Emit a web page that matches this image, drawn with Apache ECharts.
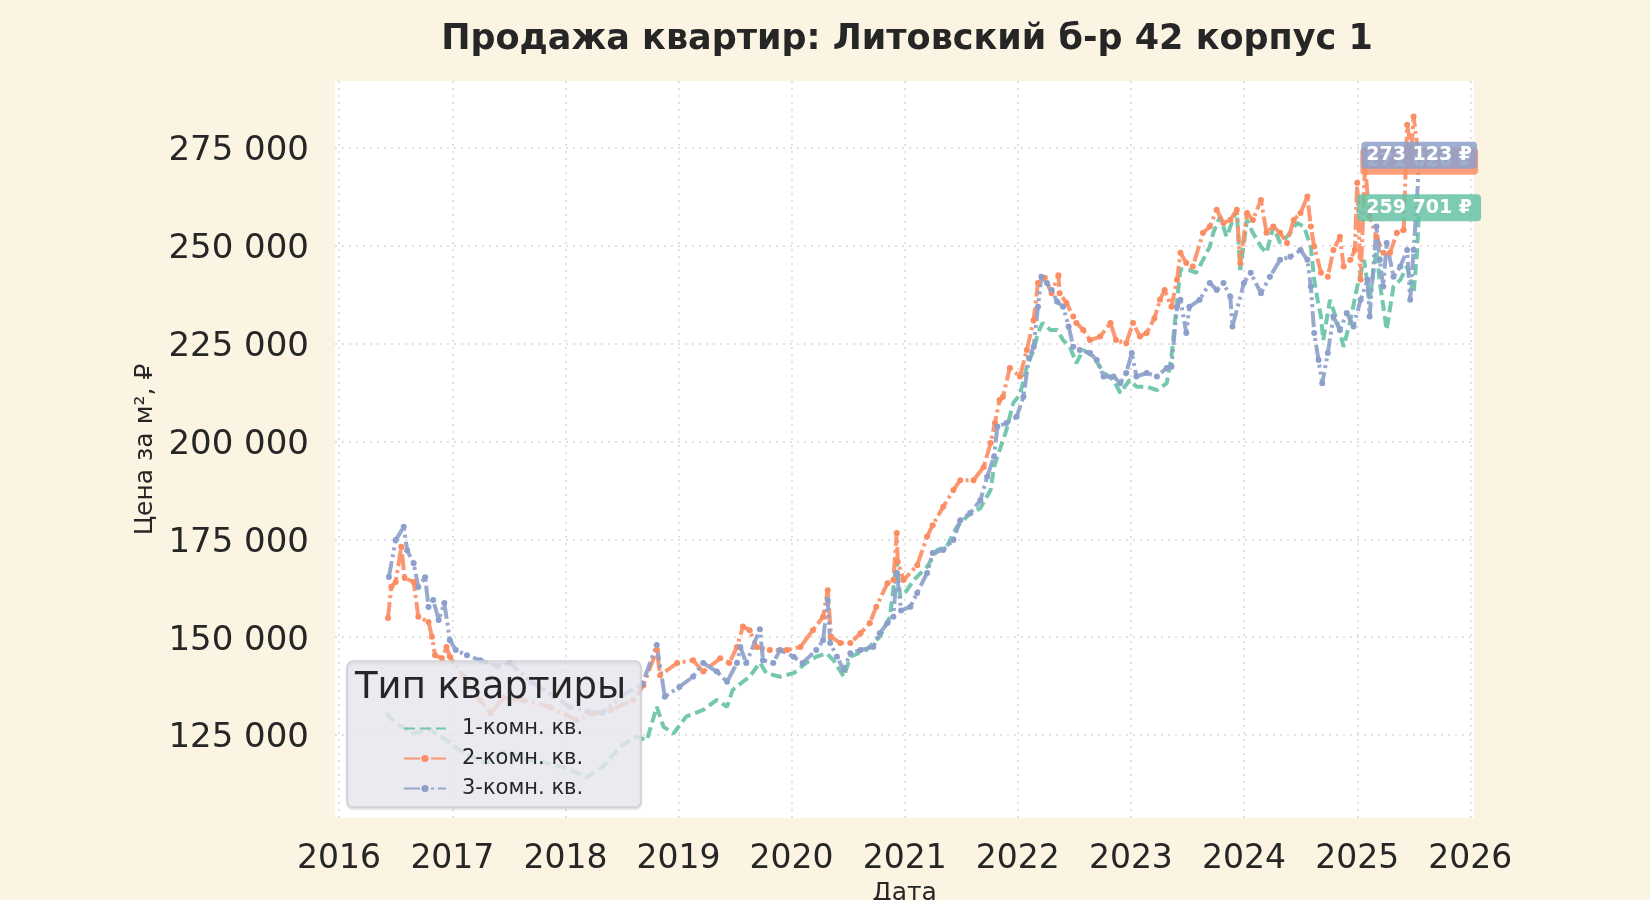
<!DOCTYPE html>
<html>
<head>
<meta charset="utf-8">
<title>Продажа квартир</title>
<script src="https://cdn.jsdelivr.net/npm/echarts@6/dist/echarts.min.js"></script>
<style>
  html, body { margin: 0; padding: 0; background: #fbf4e2; }
  #chart { width: 1650px; height: 900px; }
</style>
</head>
<body>
<div id="chart"></div>
<script>
/* Values: [date, price per m²] */
const seriesNames = ['1-комн. кв.', '2-комн. кв.', '3-комн. кв.'];

const yTicks = [125000, 150000, 175000, 200000, 225000, 250000, 275000];
const xTicks = ['2016-01-01', '2017-01-01', '2018-01-01', '2019-01-01', '2020-01-01', '2021-01-01',
                '2022-01-01', '2023-01-01', '2024-01-01', '2025-01-01', '2026-01-01'];

const room1 = [
  ['2016-06-03', 130500], ['2016-07-02', 128000], ['2016-08-29', 125400], ['2016-10-19', 126500],
  ['2016-12-13', 123700], ['2017-02-06', 120400], ['2017-04-20', 117800], ['2017-06-25', 121000],
  ['2017-08-15', 119000], ['2017-10-19', 118000], ['2017-12-24', 116800], ['2018-03-10', 114200],
  ['2018-05-01', 116800], ['2018-06-25', 121900], ['2018-08-18', 124600], ['2018-09-21', 123700],
  ['2018-10-23', 132200], ['2018-11-14', 127100], ['2018-12-16', 125400], ['2019-01-26', 129700],
  ['2019-03-22', 131400], ['2019-05-05', 134000], ['2019-06-07', 132200], ['2019-06-25', 136500],
  ['2019-07-20', 138100], ['2019-08-19', 139900], ['2019-09-21', 143500], ['2019-10-12', 140800],
  ['2019-11-25', 139900], ['2020-01-08', 140800], ['2020-02-17', 143400], ['2020-03-21', 145000],
  ['2020-04-23', 145900], ['2020-05-16', 144100], ['2020-06-18', 139900], ['2020-07-09', 145000],
  ['2020-08-29', 146700], ['2020-10-12', 150100], ['2020-11-14', 155200], ['2020-12-06', 169700],
  ['2020-12-17', 160300], ['2021-01-08', 162000], ['2021-01-30', 164600], ['2021-03-14', 168000],
  ['2021-04-16', 172300], ['2021-05-16', 173100], ['2021-06-18', 178200], ['2021-07-20', 180800],
  ['2021-09-02', 183000], ['2021-10-05', 187600], ['2021-10-16', 193500], ['2021-11-25', 202900],
  ['2021-12-17', 209800], ['2022-01-08', 212000], ['2022-01-30', 219100], ['2022-02-21', 223400],
  ['2022-03-07', 227700], ['2022-03-22', 230300], ['2022-04-16', 228500], ['2022-05-08', 228500],
  ['2022-05-27', 225900], ['2022-06-18', 224200], ['2022-07-09', 220000], ['2022-07-31', 223400],
  ['2022-09-02', 221700], ['2022-10-05', 217500], ['2022-11-06', 215700], ['2022-11-28', 212400],
  ['2022-12-28', 215700], ['2023-01-19', 214000], ['2023-02-21', 214000], ['2023-03-26', 213100],
  ['2023-04-27', 214900], ['2023-05-12', 221700], ['2023-05-23', 230300], ['2023-06-10', 244000],
  ['2023-07-09', 243800], ['2023-07-31', 243100], ['2023-08-22', 246400], ['2023-09-13', 249800],
  ['2023-09-24', 253300], ['2023-10-16', 257500], ['2023-11-06', 252300], ['2023-12-09', 259200],
  ['2023-12-20', 243800], ['2024-01-11', 256600], ['2024-01-30', 253300], ['2024-02-25', 249800],
  ['2024-03-14', 248200], ['2024-04-05', 254900], ['2024-04-27', 250700], ['2024-05-19', 252300],
  ['2024-06-21', 255800], ['2024-07-13', 254900], ['2024-08-04', 249800], ['2024-08-15', 241300],
  ['2024-08-26', 236200], ['2024-09-06', 231900], ['2024-09-13', 225900], ['2024-10-05', 236200],
  ['2024-10-27', 231000], ['2024-11-18', 224200], ['2024-12-10', 231000], ['2025-01-01', 239600],
  ['2025-01-23', 246400], ['2025-02-10', 236200], ['2025-03-04', 248900], ['2025-03-15', 240500],
  ['2025-04-06', 228500], ['2025-04-28', 239600], ['2025-05-20', 241300], ['2025-06-11', 244700],
  ['2025-07-02', 237900], ['2025-07-13', 248200], ['2025-07-20', 259701]
];

const room2 = [
  ['2016-06-07', 154900], ['2016-06-18', 162900], ['2016-07-02', 164100], ['2016-07-20', 173100],
  ['2016-07-31', 165100], ['2016-08-29', 164100], ['2016-09-13', 155200], ['2016-10-16', 153900],
  ['2016-10-27', 150100], ['2016-11-06', 145400], ['2016-11-28', 144600], ['2016-12-13', 147500],
  ['2016-12-24', 145000], ['2017-02-06', 140000], ['2017-04-01', 133900], ['2017-05-05', 130600],
  ['2017-06-14', 134500], ['2017-08-19', 133900], ['2017-11-14', 132100], ['2018-02-06', 128800],
  ['2018-04-01', 130500], ['2018-05-27', 131400], ['2018-08-08', 133900], ['2018-09-10', 137700],
  ['2018-10-23', 146700], ['2018-11-03', 140300], ['2018-12-28', 143400], ['2019-02-17', 144100],
  ['2019-03-22', 141200], ['2019-05-16', 144600], ['2019-06-14', 143400], ['2019-07-09', 147500],
  ['2019-07-28', 152700], ['2019-08-19', 151800], ['2019-09-10', 147500], ['2019-10-23', 146700],
  ['2019-12-17', 146700], ['2020-01-30', 147500], ['2020-03-10', 151800], ['2020-04-12', 155200],
  ['2020-04-27', 162000], ['2020-05-08', 150100], ['2020-06-07', 148500], ['2020-07-09', 148500],
  ['2020-08-11', 151000], ['2020-09-10', 153600], ['2020-10-01', 157800], ['2020-11-06', 163800],
  ['2020-11-25', 164600], ['2020-12-06', 176600], ['2020-12-09', 169300], ['2020-12-28', 164600],
  ['2021-02-10', 168400], ['2021-03-14', 175700], ['2021-04-01', 178600], ['2021-05-05', 183300],
  ['2021-06-07', 187600], ['2021-06-29', 190100], ['2021-08-11', 190100], ['2021-09-13', 193500],
  ['2021-10-05', 199600], ['2021-10-19', 204700], ['2021-11-03', 210600], ['2021-11-14', 211400],
  ['2021-12-06', 218800], ['2022-01-08', 216600], ['2022-01-30', 223400], ['2022-02-21', 231000],
  ['2022-03-07', 240500], ['2022-03-29', 241800], ['2022-04-20', 237900], ['2022-05-12', 242500],
  ['2022-05-16', 237900], ['2022-06-07', 235400], ['2022-06-29', 231900], ['2022-07-09', 230300],
  ['2022-07-31', 228500], ['2022-08-22', 225900], ['2022-09-24', 226800], ['2022-10-27', 230300],
  ['2022-11-14', 225900], ['2022-12-17', 225100], ['2023-01-08', 230300], ['2023-01-30', 226800],
  ['2023-02-21', 227700], ['2023-03-18', 231500], ['2023-04-05', 236200], ['2023-04-20', 238700],
  ['2023-05-12', 234400], ['2023-05-30', 241300], ['2023-06-10', 248200], ['2023-06-29', 245600],
  ['2023-07-20', 244700], ['2023-08-22', 253300], ['2023-09-13', 254900], ['2023-10-05', 259200],
  ['2023-10-27', 255800], ['2023-11-18', 256600], ['2023-12-09', 259200], ['2023-12-20', 245600],
  ['2024-01-11', 258400], ['2024-01-30', 256600], ['2024-02-25', 261700], ['2024-03-14', 253300],
  ['2024-04-05', 254900], ['2024-04-27', 253300], ['2024-05-19', 250700], ['2024-06-10', 256600],
  ['2024-07-02', 258400], ['2024-07-24', 262600], ['2024-08-04', 254900], ['2024-08-15', 249800],
  ['2024-09-06', 243100], ['2024-09-28', 242100], ['2024-10-16', 248900], ['2024-11-06', 252300],
  ['2024-11-18', 244700], ['2024-12-10', 246400], ['2024-12-24', 248900], ['2025-01-01', 266100],
  ['2025-01-12', 241300], ['2025-01-26', 270200], ['2025-02-10', 257500], ['2025-03-04', 252300],
  ['2025-03-26', 248200], ['2025-04-17', 248200], ['2025-05-09', 253300], ['2025-05-31', 254000],
  ['2025-06-11', 280900], ['2025-06-25', 274500], ['2025-07-02', 283000], ['2025-07-20', 271626]
];

const room3 = [
  ['2016-06-10', 165400], ['2016-07-02', 174800], ['2016-07-28', 178200], ['2016-08-08', 172200],
  ['2016-08-29', 168900], ['2016-09-13', 162800], ['2016-10-05', 165300], ['2016-10-16', 157700],
  ['2016-10-31', 159500], ['2016-11-18', 154400], ['2016-12-06', 158700], ['2016-12-24', 149200],
  ['2017-01-12', 146700], ['2017-02-17', 145400], ['2017-04-01', 144100], ['2017-05-27', 142500],
  ['2017-07-05', 143400], ['2017-09-13', 138500], ['2017-11-25', 135000], ['2018-01-15', 132100],
  ['2018-03-14', 131000], ['2018-05-01', 130600], ['2018-07-02', 135000], ['2018-09-06', 138000],
  ['2018-10-23', 148000], ['2018-11-18', 134800], ['2019-01-04', 137300], ['2019-02-17', 139900],
  ['2019-03-22', 143400], ['2019-05-05', 141200], ['2019-06-07', 138600], ['2019-07-09', 143400],
  ['2019-07-20', 147500], ['2019-08-08', 143400], ['2019-09-21', 152000], ['2019-10-01', 144100],
  ['2019-11-03', 143400], ['2019-11-25', 146700], ['2020-01-08', 145000], ['2020-02-06', 143400],
  ['2020-03-21', 146700], ['2020-04-12', 149200], ['2020-04-27', 159500], ['2020-05-05', 148500],
  ['2020-05-27', 145000], ['2020-06-18', 141600], ['2020-07-09', 145900], ['2020-08-11', 146700],
  ['2020-09-21', 147500], ['2020-10-12', 151000], ['2020-11-06', 153600], ['2020-11-25', 155200],
  ['2020-12-06', 166400], ['2020-12-20', 156800], ['2021-01-19', 157800], ['2021-02-10', 161300],
  ['2021-03-14', 166400], ['2021-04-01', 171500], ['2021-05-05', 172300], ['2021-06-07', 174800],
  ['2021-06-29', 179900], ['2021-07-31', 181700], ['2021-09-02', 185000], ['2021-09-24', 191000],
  ['2021-10-16', 196100], ['2021-10-27', 203800], ['2021-11-25', 204700], ['2021-12-28', 206300],
  ['2022-01-19', 211400], ['2022-02-06', 221300], ['2022-02-21', 224200], ['2022-03-07', 234400],
  ['2022-03-18', 242100], ['2022-04-05', 240500], ['2022-04-20', 238700], ['2022-05-08', 235700],
  ['2022-05-27', 234400], ['2022-06-14', 229400], ['2022-06-29', 224200], ['2022-07-20', 223400],
  ['2022-08-22', 222600], ['2022-09-13', 220800], ['2022-10-05', 216600], ['2022-11-06', 216600],
  ['2022-11-28', 214900], ['2022-12-17', 217500], ['2023-01-04', 222600], ['2023-01-19', 216600],
  ['2023-02-21', 217500], ['2023-03-26', 216600], ['2023-04-27', 218800], ['2023-05-12', 219100],
  ['2023-05-30', 234400], ['2023-06-10', 236200], ['2023-06-29', 227700], ['2023-07-09', 234400],
  ['2023-08-11', 236200], ['2023-09-13', 240500], ['2023-10-05', 238700], ['2023-10-27', 240500],
  ['2023-11-18', 237000], ['2023-11-25', 229400], ['2024-01-01', 240500], ['2024-01-23', 243100],
  ['2024-02-25', 237900], ['2024-03-25', 242100], ['2024-04-27', 246400], ['2024-05-30', 247200],
  ['2024-07-02', 248900], ['2024-07-24', 246400], ['2024-08-04', 239600], ['2024-08-15', 227700],
  ['2024-08-29', 220800], ['2024-09-10', 214900], ['2024-09-28', 222600], ['2024-10-16', 231900],
  ['2024-11-06', 228500], ['2024-11-28', 232800], ['2024-12-20', 229400], ['2025-01-12', 236200],
  ['2025-02-03', 241300], ['2025-02-10', 231900], ['2025-03-04', 254900], ['2025-03-15', 246400],
  ['2025-03-26', 239600], ['2025-04-06', 250700], ['2025-04-28', 242100], ['2025-05-20', 244700],
  ['2025-06-11', 248900], ['2025-06-21', 236200], ['2025-07-02', 248900], ['2025-07-13', 261700],
  ['2025-07-20', 273123]
];

const COLORS = ['#66c2a5', '#fc8d62', '#8da0cb'];
const LABEL_BG = ['rgba(102,194,165,0.85)', 'rgba(252,141,98,0.85)', 'rgba(141,160,203,0.85)'];
const LABEL_PAD = [[4, 9, 4, 9], [4, 6, 4, 6], [4, 5, 4, 5]];
const FONT = "'DejaVu Sans', sans-serif";
const TEXT = '#262626';

/* timestamp for a 'YYYY-MM-DD' string */
const ts = s => new Date(s + 'T00:00:00').getTime();
/* 275000 -> "275 000" */
const fmt = v => String(Math.round(v)).replace(/\B(?=(\d{3})+(?!\d))/g, ' ');

function lineSeries(i, rows, dash, symbolSize) {
  const data = rows.map(r => [ts(r[0]), r[1]]);
  const last = data[data.length - 1];
  return {
    name: seriesNames[i],
    type: 'line',
    data: data,
    symbol: symbolSize ? 'circle' : 'none',
    symbolSize: symbolSize,
    showAllSymbol: true,
    itemStyle: { color: COLORS[i] },
    lineStyle: { color: COLORS[i], width: 4, type: dash, opacity: 0.9 },
    emphasis: { disabled: true },
    markPoint: {
      symbol: 'circle',
      symbolSize: 1,
      itemStyle: { color: 'rgba(0,0,0,0)' },
      label: {
        show: true,
        position: 'inside',
        formatter: p => fmt(p.value) + ' ₽',
        color: '#ffffff',
        fontFamily: FONT,
        fontWeight: 'bold',
        fontSize: 19,
        backgroundColor: LABEL_BG[i],
        borderRadius: 4,
        padding: LABEL_PAD[i]
      },
      data: [{ coord: last, value: last[1] }]
    }
  };
}

const chart = echarts.init(document.getElementById('chart'));

chart.setOption({
  backgroundColor: '#fbf4e2',
  animation: false,
  textStyle: { fontFamily: FONT, color: TEXT },
  title: [
    {
      text: 'Продажа квартир: Литовский б-р 42 корпус 1',
      left: 902, top: 17, textAlign: 'center',
      textStyle: { fontFamily: FONT, fontWeight: 'bold', fontSize: 35, color: TEXT }
    },
    {
      /* legend title, sits inside the legend box */
      text: 'Тип квартиры',
      left: 355, top: 670,
      padding: 0,
      textStyle: { fontFamily: FONT, fontWeight: 'normal', fontSize: 37, color: TEXT }
    }
  ],
  legend: {
    orient: 'vertical',
    left: 347, top: 661,
    padding: [57, 58, 8, 56],
    itemWidth: 42, itemHeight: 9, itemGap: 9,
    backgroundColor: 'rgba(234,234,242,0.82)',
    borderColor: 'rgba(205,205,212,0.9)', borderWidth: 1.5, borderRadius: 6,
    shadowColor: 'rgba(0,0,0,0.12)', shadowOffsetY: 2, shadowBlur: 2,
    textStyle: { fontFamily: FONT, fontSize: 21, color: TEXT, padding: [0, 0, 0, 11] },
    data: [
      { name: seriesNames[0], itemStyle: { opacity: 0 } },
      { name: seriesNames[1] },
      { name: seriesNames[2] }
    ]
  },
  grid: {
    left: 335, right: 176, top: 81, bottom: 82,
    show: true, backgroundColor: '#ffffff', borderWidth: 0,
    outerBoundsMode: 'none'
  },
  xAxis: {
    type: 'value',
    min: ts('2015-12-19'), max: ts('2026-01-13'),
    name: 'Дата', nameLocation: 'middle', nameGap: 63,
    nameTextStyle: { fontFamily: FONT, fontSize: 25, color: TEXT },
    axisLine: { show: false },
    axisTick: { show: false, customValues: xTicks.map(ts) },
    axisLabel: {
      customValues: xTicks.map(ts),
      formatter: v => String(new Date(v).getFullYear()),
      fontFamily: FONT, fontSize: 33, color: TEXT, margin: 25
    },
    splitLine: { show: true, lineStyle: { color: '#d8d8d8', width: 1.5, type: [2, 5] } }
  },
  yAxis: {
    type: 'value',
    min: 103800, max: 292100,
    name: 'Цена за м², ₽', nameLocation: 'middle', nameGap: 174, nameRotate: 90,
    nameTextStyle: { fontFamily: FONT, fontSize: 25, color: TEXT },
    axisLine: { show: false },
    axisTick: { show: false, customValues: yTicks },
    axisLabel: {
      customValues: yTicks,
      formatter: v => '{v|' + fmt(v) + '}',
      margin: 26,
      rich: {
        v: { fontFamily: FONT, fontSize: 34, color: TEXT, padding: [7, 0, 0, 0] }
      }
    },
    splitLine: { show: true, lineStyle: { color: '#d8d8d8', width: 1.5, type: [2, 5] } }
  },
  series: [
    lineSeries(0, room1, [11, 5], 0),
    lineSeries(1, room2, [16, 4, 3, 4], 6),
    lineSeries(2, room3, [16, 4, 3, 4, 3, 4], 6)
  ]
});
</script>
</body>
</html>
